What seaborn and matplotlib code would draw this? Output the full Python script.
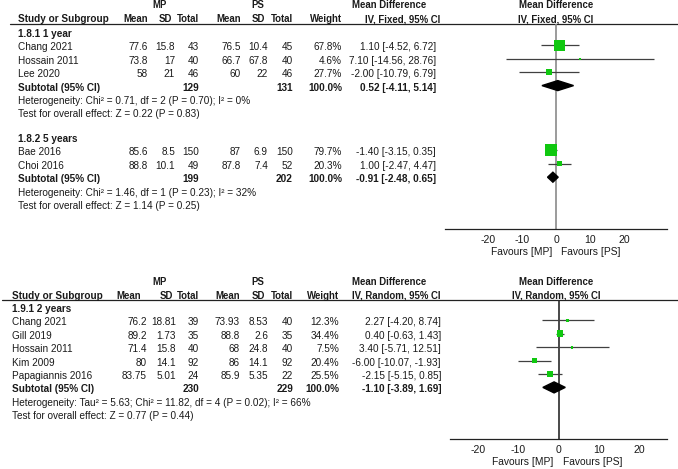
import matplotlib
matplotlib.use("Agg")
import matplotlib.pyplot as plt
import seaborn as sns
import pandas as pd
from matplotlib.patches import Polygon

# ==========================================
# Data
# ==========================================

# 1.8.1 1 year (fixed)
g1_study = ["Chang 2021", "Hossain 2011", "Lee 2020"]
g1_mp_mean = [77.6, 73.8, 58]
g1_mp_sd = [15.8, 17, 21]
g1_mp_n = [43, 40, 46]
g1_ps_mean = [76.5, 66.7, 60]
g1_ps_sd = [10.4, 67.8, 22]
g1_ps_n = [45, 40, 46]
g1_weight = [67.8, 4.6, 27.7]
g1_md = [1.10, 7.10, -2.00]
g1_lo = [-4.52, -14.56, -10.79]
g1_hi = [6.72, 28.76, 6.79]
g1_total = [129, 131]
g1_sub = [0.52, -4.11, 5.14]
g1_het = "Heterogeneity: Chi² = 0.71, df = 2 (P = 0.70); I² = 0%"
g1_test = "Test for overall effect: Z = 0.22 (P = 0.83)"

# 1.8.2 5 years (fixed)
g2_study = ["Bae 2016", "Choi 2016"]
g2_mp_mean = [85.6, 88.8]
g2_mp_sd = [8.5, 10.1]
g2_mp_n = [150, 49]
g2_ps_mean = [87, 87.8]
g2_ps_sd = [6.9, 7.4]
g2_ps_n = [150, 52]
g2_weight = [79.7, 20.3]
g2_md = [-1.40, 1.00]
g2_lo = [-3.15, -2.47]
g2_hi = [0.35, 4.47]
g2_total = [199, 202]
g2_sub = [-0.91, -2.48, 0.65]
g2_het = "Heterogeneity: Chi² = 1.46, df = 1 (P = 0.23); I² = 32%"
g2_test = "Test for overall effect: Z = 1.14 (P = 0.25)"

# 1.9.1 2 years (random)
g3_study = ["Chang 2021", "Gill 2019", "Hossain 2011", "Kim 2009", "Papagiannis 2016"]
g3_mp_mean = [76.2, 89.2, 71.4, 80, 83.75]
g3_mp_sd = [18.81, 1.73, 15.8, 14.1, 5.01]
g3_mp_n = [39, 35, 40, 92, 24]
g3_ps_mean = [73.93, 88.8, 68, 86, 85.9]
g3_ps_sd = [8.53, 2.6, 24.8, 14.1, 5.35]
g3_ps_n = [40, 35, 40, 92, 22]
g3_weight = [12.3, 34.4, 7.5, 20.4, 25.5]
g3_md = [2.27, 0.40, 3.40, -6.00, -2.15]
g3_lo = [-4.20, -0.63, -5.71, -10.07, -5.15]
g3_hi = [8.74, 1.43, 12.51, -1.93, 0.85]
g3_total = [230, 229]
g3_sub = [-1.10, -3.89, 1.69]
g3_het = "Heterogeneity: Tau² = 5.63; Chi² = 11.82, df = 4 (P = 0.02); I² = 66%"
g3_test = "Test for overall effect: Z = 0.77 (P = 0.44)"

ticks = [-20, -10, 0, 10, 20]

# ==========================================
# Style
# ==========================================

sns.set_style("white")
plt.rcParams["font.family"] = ["Liberation Sans", "DejaVu Sans"]

FS = 7.2
HFS = 6.9
TXT = "#1a1a1a"
GREEN = "#10c810"

W, H = 678, 469
fig = plt.figure(figsize=(W / 100, H / 100), dpi=100)

tx = fig.add_axes([0, 0, 1, 1])
tx.set_xlim(0, W)
tx.set_ylim(H, 0)
tx.axis("off")


def put(x, y, s, ha="left", bold=False, size=FS):
    tx.text(x, y, s, ha=ha, va="center", fontsize=size, color=TXT,
            fontweight="bold" if bold else "normal")


def fmt_ci(m, l, h):
    return f"{m:.2f} [{l:.2f}, {h:.2f}]"


def header(y0, cols, method, name_x, line_x0, mean_hdr_x, ci_hdr_x):
    put(160, y0, "MP", ha="center", bold=True, size=HFS)
    put(258, y0, "PS", ha="center", bold=True, size=HFS)
    put(389, y0, "Mean Difference", ha="center", bold=True, size=HFS)
    put(556, y0, "Mean Difference", ha="center", bold=True, size=HFS)
    y1 = y0 + 14
    put(name_x, y1, "Study or Subgroup", bold=True, size=FS)
    put(mean_hdr_x, y1, "Mean", ha="right", bold=True, size=HFS)
    put(cols[1] - 3, y1, "SD", ha="right", bold=True, size=HFS)
    put(cols[2], y1, "Total", ha="right", bold=True, size=HFS)
    put(cols[3], y1, "Mean", ha="right", bold=True, size=HFS)
    put(cols[4] - 3, y1, "SD", ha="right", bold=True, size=HFS)
    put(cols[5], y1, "Total", ha="right", bold=True, size=HFS)
    put(cols[6], y1, "Weight", ha="right", bold=True, size=HFS)
    put(ci_hdr_x, y1, f"IV, {method}, 95% CI", ha="right", bold=True, size=HFS)
    put(556, y1, f"IV, {method}, 95% CI", ha="center", bold=True, size=HFS)
    tx.plot([line_x0, W], [y1 + 4.5, y1 + 4.5], color="#222222", lw=0.9)


def group_rows(y, x0, cols, title, study, mm, ms, mn, pm, psd, pn, w,
               md, lo, hi, total, sub, het, test, step=13.4):
    put(x0, y, title, bold=True)
    ys = []
    for i in range(len(study)):
        yy = y + step * (i + 1)
        ys.append(yy)
        put(x0, yy, study[i])
        put(cols[0], yy, str(mm[i]), ha="right")
        put(cols[1], yy, str(ms[i]), ha="right")
        put(cols[2], yy, str(mn[i]), ha="right")
        put(cols[3], yy, str(pm[i]), ha="right")
        put(cols[4], yy, str(psd[i]), ha="right")
        put(cols[5], yy, str(pn[i]), ha="right")
        put(cols[6], yy, f"{w[i]:.1f}%", ha="right")
        put(cols[7], yy, fmt_ci(md[i], lo[i], hi[i]), ha="right")
    ysub = y + step * (len(study) + 1)
    put(x0, ysub, "Subtotal (95% CI)", bold=True)
    put(cols[2], ysub, str(total[0]), ha="right", bold=True)
    put(cols[5], ysub, str(total[1]), ha="right", bold=True)
    put(cols[6], ysub, "100.0%", ha="right", bold=True)
    put(cols[7], ysub, fmt_ci(*sub), ha="right", bold=True)
    put(x0, ysub + 13.5, het)
    put(x0, ysub + 26.5, test)
    return ys, ysub


def forest(px, py, lim, zero_color, rows, dh):
    ax = fig.add_axes([px[0] / W, 1 - py[1] / H, (px[1] - px[0]) / W,
                       (py[1] - py[0]) / H])
    ax.set_facecolor("none")
    ax.set_xlim(-lim, lim)
    ax.set_ylim(py[1], py[0])
    ax.axvline(0, color=zero_color, lw=1.2, zorder=1)
    for ys, md, lo, hi, w, ysub, sub in rows:
        ym = [y - 2 for y in ys]
        ax.hlines(ym, lo, hi, color="#404040", lw=0.9, zorder=2)
        df = pd.DataFrame({"md": md, "y": ym, "w": w})
        area = {v: (0.373 * v ** 0.78 * 0.72 + 0.6) ** 2 for v in w}
        sns.scatterplot(data=df, x="md", y="y", size="w", sizes=area,
                        marker="s", color=GREEN, linewidth=0,
                        legend=False, ax=ax, zorder=3)
        yd = ysub - 2
        ax.add_patch(Polygon([[sub[1], yd], [sub[0], yd - dh],
                              [sub[2], yd], [sub[0], yd + dh]],
                             closed=True, color="black", zorder=4))
    for s in ["top", "left", "right"]:
        ax.spines[s].set_visible(False)
    ax.spines["bottom"].set_color("#222222")
    ax.spines["bottom"].set_linewidth(0.9)
    ax.set_xticks(ticks)
    ax.set_xticklabels([str(t) for t in ticks], fontsize=7.6, color=TXT)
    ax.tick_params(axis="x", direction="inout", length=5, width=0.9,
                   color="#222222", pad=1.5)
    ax.set_yticks([])
    ax.set_xlabel("")
    ax.set_ylabel("")
    return ax


# ==========================================
# Top block (fixed effect)
# ==========================================

cols_top = [148, 175, 199, 241, 268, 293, 342, 436]
header(5.5, cols_top, "Fixed", 18, 10, 148, 440)
ys1, ysub1 = group_rows(34, 18, cols_top, "1.8.1 1 year", g1_study,
                        g1_mp_mean, g1_mp_sd, g1_mp_n, g1_ps_mean, g1_ps_sd,
                        g1_ps_n, g1_weight, g1_md, g1_lo, g1_hi, g1_total,
                        g1_sub, g1_het, g1_test)
ys2, ysub2 = group_rows(139, 18, cols_top, "1.8.2 5 years", g2_study,
                        g2_mp_mean, g2_mp_sd, g2_mp_n, g2_ps_mean, g2_ps_sd,
                        g2_ps_n, g2_weight, g2_md, g2_lo, g2_hi, g2_total,
                        g2_sub, g2_het, g2_test)
forest((445, 667), (24, 229), 32.5, "#8a8a8a",
       [(ys1, g1_md, g1_lo, g1_hi, g1_weight, ysub1, g1_sub),
        (ys2, g2_md, g2_lo, g2_hi, g2_weight, ysub2, g2_sub)], 5.0)
put(552, 252, "Favours [MP]", ha="right", size=7.4)
put(561, 252, "Favours [PS]", ha="left", size=7.4)

# ==========================================
# Bottom block (random effects)
# ==========================================

cols_bot = [147, 176, 199, 240, 268, 293, 339, 441]
header(282, cols_bot, "Random", 12, 2, 141, 441)
ys3, ysub3 = group_rows(309, 12, cols_bot, "1.9.1 2 years", g3_study,
                        g3_mp_mean, g3_mp_sd, g3_mp_n, g3_ps_mean, g3_ps_sd,
                        g3_ps_n, g3_weight, g3_md, g3_lo, g3_hi, g3_total,
                        g3_sub, g3_het, g3_test)
forest((450, 667), (300, 439), 27.0, "#2a2a2a",
       [(ys3, g3_md, g3_lo, g3_hi, g3_weight, ysub3, g3_sub)], 5.5)
put(553, 462, "Favours [MP]", ha="right", size=7.4)
put(563, 462, "Favours [PS]", ha="left", size=7.4)

plt.savefig("out.png", dpi=100)
